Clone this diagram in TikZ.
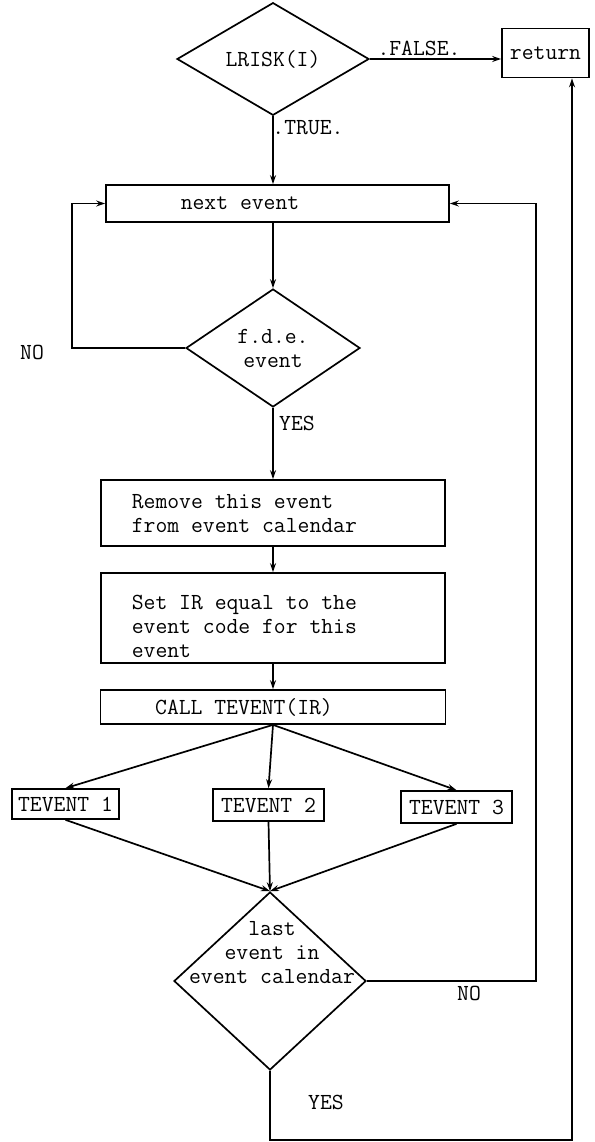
\documentclass[tikz,border=0pt]{standalone}
\usetikzlibrary{shapes.geometric,arrows.meta}
\begin{document}
\begin{tikzpicture}[x=1pt,y=-1pt,
  font=\fontsize{23}{24}\selectfont\ttfamily,
  line width=1.7pt,
  >={Stealth[length=9pt,width=6pt]},
  box/.style={draw, inner sep=0pt},
  dia/.style={draw, diamond, inner sep=0pt, align=center},
  txt/.style={inner sep=0pt}]
\useasboundingbox (0,0) rectangle (594,1142);
% nodes
\node[dia, minimum width=192pt, minimum height=98pt] (lrisk) at (273,59) {LRISK(I)};
\node[box, minimum width=87pt, minimum height=49pt] (ret) at (545.5,53) {return};
\node[box, minimum width=343pt, minimum height=37pt] (next) at (277.5,203.5) {};
\node[txt] (nextt) at (240,203.5) {next event};
\node[dia, minimum width=174pt, minimum height=118pt] (fde) at (273,348) {f.d.e.\\event};
\node[box, minimum width=344pt, minimum height=66pt] (remove) at (273,513) {};
\node[txt, anchor=west, align=left] (removet) at (131,514) {Remove this event\\from event calendar};
\node[box, minimum width=344pt, minimum height=90pt] (setir) at (273,618) {};
\node[txt, anchor=west, align=left] (setirt) at (131,626) {Set IR equal to the\\event code for this\\event};
\node[box, minimum width=345pt, minimum height=34pt] (call) at (273,707) {};
\node[txt] (callt) at (244,707) {CALL TEVENT(IR)};
\node[box, minimum width=107pt, minimum height=30pt] (t1) at (65.5,804) {TEVENT 1};
\node[box, minimum width=111pt, minimum height=32pt] (t2) at (268.5,805) {TEVENT 2};
\node[box, minimum width=111pt, minimum height=32pt] (t3) at (456.5,807) {TEVENT 3};
\node[dia, minimum width=192pt, minimum height=178pt] (last) at (270,981) {};
\node[txt, align=center] (lastt) at (272,953) {last\\event in\\event calendar};
% labels
\node[txt, anchor=base] (lfalse) at (419,56) {.FALSE.};
\node[txt] (ltrue) at (308,128) {.TRUE.};
\node[txt] (lno1) at (32,352) {NO};
\node[txt] (lyes1) at (297,423) {YES};
\node[txt] (lno2) at (469,993) {NO};
\node[txt] (lyes2) at (326,1102) {YES};
% helper coordinates
\coordinate (nol) at (72,348);
\coordinate (nor) at (536,981);
\coordinate (yb) at (572,1140);
% connectors
\draw[->] (lrisk.east) -- (lrisk.east -| ret.west);
\draw[->] (lrisk.south) -- (lrisk.south |- next.north);
\draw[->] (fde.north |- next.south) -- (fde.north);
\draw[->] (fde.south) -- (remove.north);
\draw[->] (remove.south) -- (setir.north);
\draw[->] (setir.south) -- (call.north);
\draw[->] (call.south) -- (t1.north);
\draw[->] (call.south) -- (t2.north);
\draw[->] (call.south) -- (t3.north);
\draw[->] (t1.south) -- (last.north);
\draw[->] (t2.south) -- (last.north);
\draw[->] (t3.south) -- (last.north);
\draw[->] (fde.west) -- (nol) |- (next.west);
\draw[->] (last.east) -- (nor) |- (next.east);
\draw[->] (last.south) -- (last.south |- yb) -- (yb) -- (yb |- ret.south);
\end{tikzpicture}
\end{document}
